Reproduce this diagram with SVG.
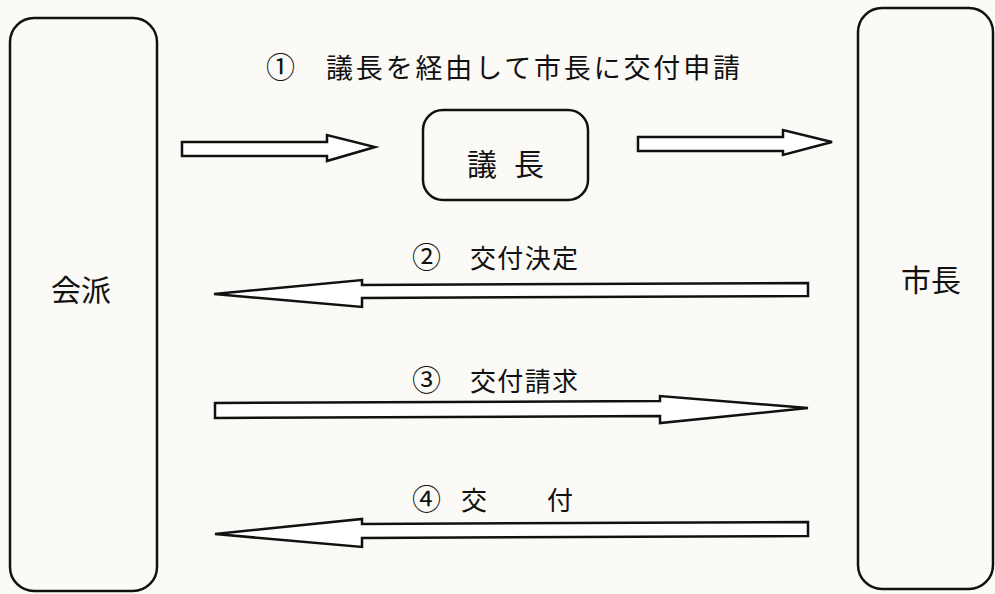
<svg xmlns="http://www.w3.org/2000/svg" width="995" height="594" viewBox="0 0 995 594">
<style>
.box{fill:none;stroke:#111;stroke-width:2.5}
.arr{fill:#fff;stroke:#111;stroke-width:2.5;stroke-linejoin:miter}
text{font-family:"Noto Sans CJK JP","Noto Sans",sans-serif;fill:#111}
.t1{font-size:27px}
.t2{font-size:26px}
.num{font-size:29px}
.big{font-size:30px}
</style>
<rect width="995" height="594" fill="#fbfaf6"/>
<g id="kaiha">
<rect class="box" x="10" y="18" width="147" height="573" rx="24"/>
<text class="big" x="51" y="301">会派</text>
</g>
<g id="shicho">
<rect class="box" x="858" y="8" width="135" height="581" rx="24"/>
<text class="big" x="901" y="291">市長</text>
</g>
<g id="gicho">
<rect class="box" x="423" y="110" width="165" height="90" rx="20"/>
<text class="big" x="467" y="175">議</text>
<text class="big" x="514" y="175">長</text>
</g>
<g id="connectors">
<polygon class="arr" points="182,142 327,142 327,135 375,147 327,161 327,156 182,156"/>
<polygon class="arr" points="638,137 783,137 783,130 832,142 783,155 783,151 638,151"/>
<polygon class="arr" points="808,283 362,285 362,280 214,294 362,307 362,298 808,296"/>
<polygon class="arr" points="215,403 660,401 660,396 808,408 660,423 660,416 215,418"/>
<polygon class="arr" points="808,522 362,524 362,519 215,534 362,547 362,538 808,536"/>
</g>
<g id="labels">
<text class="num" x="266" y="78">①</text>
<text class="t1" x="326" y="78" textLength="414" lengthAdjust="spacing">議長を経由して市長に交付申請</text>
<text class="num" x="412" y="268">②</text>
<text class="t2" x="470" y="268" textLength="108" lengthAdjust="spacing">交付決定</text>
<text class="num" x="412" y="391">③</text>
<text class="t2" x="470" y="391" textLength="108" lengthAdjust="spacing">交付請求</text>
<text class="num" x="412" y="510">④</text>
<text class="t2" x="461" y="510">交</text>
<text class="t2" x="547" y="510">付</text>
</g>
</svg>
